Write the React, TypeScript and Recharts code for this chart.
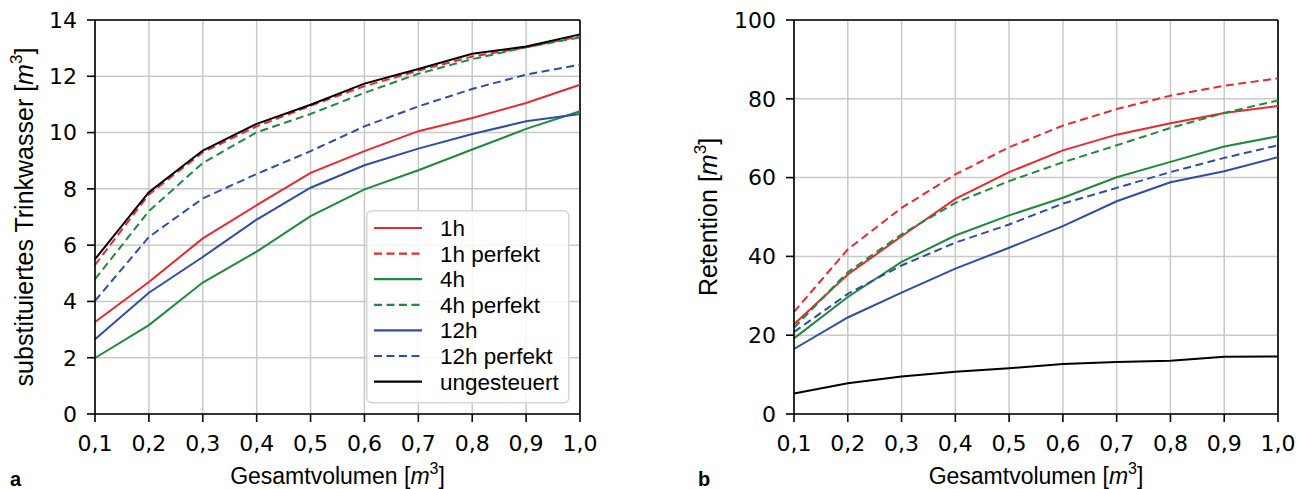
import React from 'react';
import { LineChart, Line, XAxis, YAxis, CartesianGrid, ReferenceLine } from 'recharts';

// x values (Gesamtvolumen in m³)
const volumes = [0.1, 0.2, 0.3, 0.4, 0.5, 0.6, 0.7, 0.8, 0.9, 1.0];

// panel a: substituiertes Trinkwasser [m³]
const trink1h = [3.27, 4.69, 6.24, 7.42, 8.57, 9.34, 10.05, 10.52, 11.05, 11.7];
const trink1hPerfekt = [5.3, 7.8, 9.3, 10.22, 10.95, 11.65, 12.2, 12.7, 13.03, 13.42];
const trink4h = [1.99, 3.16, 4.67, 5.77, 7.03, 7.98, 8.66, 9.4, 10.13, 10.76];
const trink4hPerfekt = [4.79, 7.21, 8.92, 10.01, 10.66, 11.41, 12.09, 12.61, 13.03, 13.38];
const trink12h = [2.66, 4.31, 5.58, 6.91, 8.04, 8.84, 9.43, 9.95, 10.4, 10.66];
const trink12hPerfekt = [4.02, 6.29, 7.66, 8.53, 9.34, 10.22, 10.93, 11.55, 12.06, 12.41];
const trinkUngesteuert = [5.5, 7.88, 9.36, 10.31, 10.99, 11.74, 12.26, 12.8, 13.06, 13.49];

// panel b: Retention [m³]
const ret1h = [22.8, 35.4, 45.1, 54.6, 61.4, 66.9, 70.9, 73.8, 76.4, 78.2];
const ret1hPerfekt = [25.9, 41.8, 52.3, 60.8, 67.7, 73.2, 77.4, 80.8, 83.3, 85.2];
const ret4h = [19.2, 29.7, 38.6, 45.3, 50.4, 54.9, 60.1, 64.0, 67.9, 70.5];
const ret4hPerfekt = [21.9, 36.0, 45.6, 53.6, 59.1, 63.9, 68.2, 72.6, 76.4, 79.6];
const ret12h = [16.5, 24.5, 30.8, 36.9, 42.2, 47.7, 54.0, 58.8, 61.6, 65.2];
const ret12hPerfekt = [20.8, 30.5, 37.7, 43.5, 48.1, 53.4, 57.4, 61.4, 65.0, 68.2];
const retUngesteuert = [5.2, 7.8, 9.5, 10.7, 11.6, 12.7, 13.2, 13.5, 14.5, 14.6];

const trinkTicks = [0, 2, 4, 6, 8, 10, 12, 14];
const retTicks = [0, 20, 40, 60, 80, 100];

const RED = '#e8292d';
const GREEN = '#1f8a3b';
const BLUE = '#2c4ea9';
const BLACK = '#000000';
const DASH = '8 4.5';

const seriesStyle = [
  { key: 's1h', name: '1h', color: RED, dash: undefined },
  { key: 's1hp', name: '1h perfekt', color: RED, dash: DASH },
  { key: 's4h', name: '4h', color: GREEN, dash: undefined },
  { key: 's4hp', name: '4h perfekt', color: GREEN, dash: DASH },
  { key: 's12h', name: '12h', color: BLUE, dash: undefined },
  { key: 's12hp', name: '12h perfekt', color: BLUE, dash: DASH },
  { key: 'sung', name: 'ungesteuert', color: BLACK, dash: undefined },
];

const buildRows = (cols: number[][]) =>
  volumes.map((v, i) => {
    const row: { [k: string]: number } = { v };
    seriesStyle.forEach((s, j) => {
      row[s.key] = cols[j][i];
    });
    return row;
  });

const trinkData = buildRows([trink1h, trink1hPerfekt, trink4h, trink4hPerfekt, trink12h, trink12hPerfekt, trinkUngesteuert]);
const retData = buildRows([ret1h, ret1hPerfekt, ret4h, ret4hPerfekt, ret12h, ret12hPerfekt, retUngesteuert]);

const TICK_FONT = 'DejaVu Sans';
const LABEL_FONT = 'Liberation Sans, Arial, sans-serif';
const GRID = '#c9c9c9';

const fmtX = (v: number) => v.toFixed(1).replace('.', ',');

// x axis title plus the panel letter
const makeXTitle = (letter: string, letterX: number) => (props: any) => {
  const vb = props.viewBox || { x: 95, width: 485 };
  const cx = vb.x + vb.width / 2;
  return (
    <g>
      <text x={cx} y={484} textAnchor="middle" fontFamily={LABEL_FONT} fontSize={23} fill="#000">
        Gesamtvolumen [<tspan fontStyle="italic">m</tspan>
        <tspan dy={-10} fontSize={16}>3</tspan>
        <tspan dy={10}>]</tspan>
      </text>
      <text x={letterX} y={486} fontFamily={LABEL_FONT} fontWeight="bold" fontSize={20} fill="#000">
        {letter}
      </text>
    </g>
  );
};

const makeYTitle = (title: string, cx: number) => (props: any) => {
  const vb = props.viewBox || { y: 20, height: 394 };
  const cy = vb.y + vb.height / 2;
  return (
    <text
      x={cx}
      y={cy + 9}
      transform={`rotate(-90 ${cx} ${cy})`}
      textAnchor="middle"
      fontFamily={LABEL_FONT}
      fontSize={25}
      fill="#000"
    >
      {title} [<tspan fontStyle="italic">m</tspan>
      <tspan dy={-11} fontSize={17}>3</tspan>
      <tspan dy={11}>]</tspan>
    </text>
  );
};

type PanelProps = {
  data: { [k: string]: number }[];
  ticks: number[];
  yTitle: string;
  yTitleX: number;
  yAxisWidth: number;
  width: number;
  letter: string;
  letterX: number;
};

const Panel: React.FC<PanelProps> = ({ data, ticks, yTitle, yTitleX, yAxisWidth, width, letter, letterX }) => {
  const yMax = ticks[ticks.length - 1];
  return (
    <LineChart width={width} height={489} data={data} margin={{ top: 20, right: 20, bottom: 0, left: 0 }}>
      <CartesianGrid stroke={GRID} strokeWidth={1.5} />
      <XAxis
        dataKey="v"
        type="number"
        domain={[0.1, 1.0]}
        ticks={volumes}
        interval={0}
        tickFormatter={fmtX}
        height={75}
        tickSize={8}
        tickMargin={13}
        axisLine={{ stroke: '#000', strokeWidth: 1.6 }}
        tickLine={{ stroke: '#000', strokeWidth: 1.6 }}
        tick={{ fill: '#000', fontSize: 22, fontFamily: TICK_FONT }}
        label={makeXTitle(letter, letterX)}
      />
      <YAxis
        type="number"
        domain={[0, yMax]}
        ticks={ticks}
        interval={0}
        width={yAxisWidth}
        tickSize={8}
        tickMargin={10}
        axisLine={{ stroke: '#000', strokeWidth: 1.6 }}
        tickLine={{ stroke: '#000', strokeWidth: 1.6 }}
        tick={{ fill: '#000', fontSize: 22, fontFamily: TICK_FONT }}
        label={makeYTitle(yTitle, yTitleX)}
      />
      <ReferenceLine y={yMax} stroke="#000" strokeWidth={1.6} />
      <ReferenceLine x={1.0} stroke="#000" strokeWidth={1.6} />
      {seriesStyle.map((s) => (
        <Line
          key={s.key}
          type="linear"
          dataKey={s.key}
          name={s.name}
          stroke={s.color}
          strokeWidth={2}
          strokeDasharray={s.dash}
          dot={false}
          activeDot={false}
          isAnimationActive={false}
        />
      ))}
    </LineChart>
  );
};

const LegendBox: React.FC = () => (
  <svg width={204} height={194} style={{ position: 'absolute', left: 366, top: 210 }}>
    <rect x={0.75} y={0.75} width={202} height={192} rx={5} fill="rgba(255,255,255,0.85)" stroke="#d6d6d6" strokeWidth={1.5} />
    {seriesStyle.map((s, i) => {
      const y = 18 + i * 25.6;
      return (
        <g key={s.key}>
          <line x1={8} x2={56} y1={y} y2={y} stroke={s.color} strokeWidth={2.2} strokeDasharray={s.dash} />
          <text x={74} y={y + 8} fontFamily={LABEL_FONT} fontSize={22.5} fill="#000">
            {s.name}
          </text>
        </g>
      );
    })}
  </svg>
);

export default function App() {
  return (
    <div style={{ position: 'absolute', left: 0, top: 0, width: 1298, height: 489, background: '#fff', overflow: 'hidden' }}>
      <div style={{ position: 'absolute', left: 0, top: 0 }}>
        <Panel
          data={trinkData}
          ticks={trinkTicks}
          yTitle="substituiertes Trinkwasser"
          yTitleX={24}
          yAxisWidth={95}
          width={600}
          letter="a"
          letterX={10}
        />
      </div>
      <LegendBox />
      <div style={{ position: 'absolute', left: 670, top: 0 }}>
        <Panel
          data={retData}
          ticks={retTicks}
          yTitle="Retention"
          yTitleX={38}
          yAxisWidth={124}
          width={628}
          letter="b"
          letterX={28}
        />
      </div>
    </div>
  );
}
